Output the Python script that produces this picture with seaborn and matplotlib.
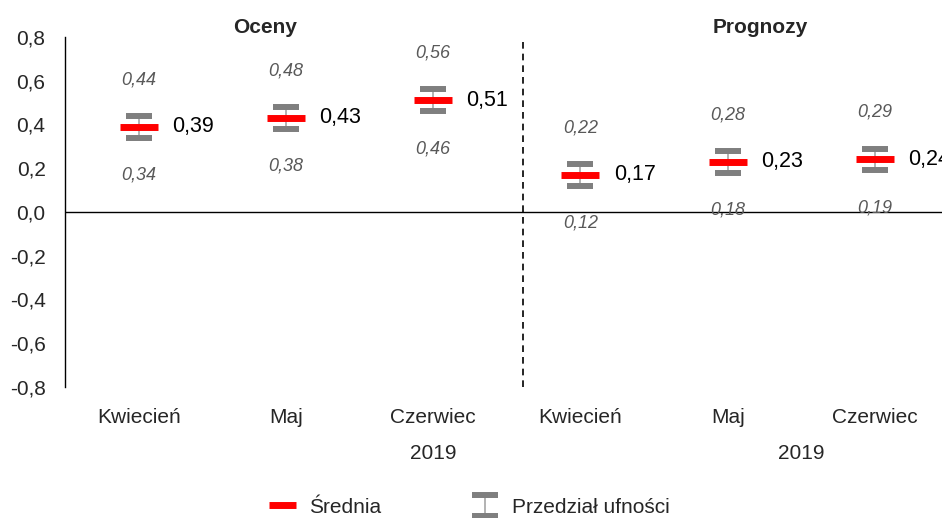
import matplotlib
matplotlib.use("Agg")
import numpy as np
import pandas as pd
import seaborn as sns
import matplotlib.pyplot as plt
from matplotlib.lines import Line2D
from matplotlib.ticker import FuncFormatter

miesiace = ["Kwiecień", "Maj", "Czerwiec", "Kwiecień", "Maj", "Czerwiec"]
srednia = [0.39, 0.43, 0.51, 0.17, 0.23, 0.24]
dolna = [0.34, 0.38, 0.46, 0.12, 0.18, 0.19]
gorna = [0.44, 0.48, 0.56, 0.22, 0.28, 0.29]

sns.set_style("white")
plt.rcParams["font.family"] = ["Liberation Sans", "DejaVu Sans"]

df = pd.DataFrame({"poz": np.arange(len(miesiace)), "miesiac": miesiace,
                   "srednia": srednia, "dolna": dolna, "gorna": gorna})

fig = plt.figure(figsize=(9.42, 5.18), dpi=100)
ax = fig.add_axes([0.069, 0.2529, 0.938, 0.6757])

szary = "#7f7f7f"
yerr = [df["srednia"] - df["dolna"], df["gorna"] - df["srednia"]]
eb = ax.errorbar(df["poz"], df["srednia"], yerr=yerr, fmt="none", ecolor="#a6a6a6",
                 elinewidth=1.2, capsize=9.7, capthick=4.3, zorder=3,
                 label="Przedział ufności")
for cap in eb[1]:
    cap.set_markeredgecolor(szary)

sns.scatterplot(data=df, x="poz", y="srednia", marker="_", s=27 ** 2,
                linewidth=5, color="#ff0000", ax=ax, zorder=4, legend=False)

for _, r in df.iterrows():
    ax.annotate(f"{r['srednia']:.2f}".replace(".", ","), (r["poz"], r["srednia"]),
                xytext=(24, 0), textcoords="offset points", ha="left", va="center",
                fontsize=15.5, color="black")
    ax.annotate(f"{r['gorna']:.2f}".replace(".", ","), (r["poz"], r["gorna"]),
                xytext=(0, 26), textcoords="offset points", ha="center", va="center",
                fontsize=13, style="italic", color="#595959")
    ax.annotate(f"{r['dolna']:.2f}".replace(".", ","), (r["poz"], r["dolna"]),
                xytext=(0, -27), textcoords="offset points", ha="center", va="center",
                fontsize=13, style="italic", color="#595959")

ax.axhline(0, color="black", lw=1, zorder=2)
ax.axvline(2.61, color="black", lw=1.2, ls=(0, (4, 3)), zorder=2)

ax.set_xlim(-0.5, 5.5)
ax.set_ylim(-0.8, 0.8)
ax.set_yticks(np.arange(-0.8, 0.81, 0.2))
ax.yaxis.set_major_formatter(FuncFormatter(lambda v, p: f"{v:.1f}".replace(".", ",").replace("-0,0", "0,0")))
ax.set_xticks(df["poz"])
ax.set_xticklabels(miesiace)
ax.tick_params(axis="y", length=0, pad=14, labelsize=15)
ax.tick_params(axis="x", length=0, pad=15, labelsize=15)
ax.set_xlabel("")
ax.set_ylabel("")
for s in ["top", "right", "bottom"]:
    ax.spines[s].set_visible(False)
ax.spines["left"].set_color("black")
ax.spines["left"].set_linewidth(1)

tr = ax.get_xaxis_transform()
ax.text(0.857, 1.026, "Oceny", transform=tr, ha="center", va="center",
        fontsize=15, fontweight="bold")
ax.text(4.22, 1.026, "Prognozy", transform=tr, ha="center", va="center",
        fontsize=15, fontweight="bold")
ax.text(2.0, -0.19, "2019", transform=tr, ha="center", va="center", fontsize=15)
ax.text(4.5, -0.19, "2019", transform=tr, ha="center", va="center", fontsize=15)

uchwyt_sr = Line2D([], [], color="#ff0000", lw=5, solid_capstyle="butt")
fig.legend([uchwyt_sr, eb], ["Średnia", "Przedział ufności"], loc="center",
           bbox_to_anchor=(0.498, 0.021), ncol=2, frameon=False, fontsize=15,
           handlelength=1.3, columnspacing=4.3, handletextpad=0.65)

fig.savefig("out.png", dpi=100)
